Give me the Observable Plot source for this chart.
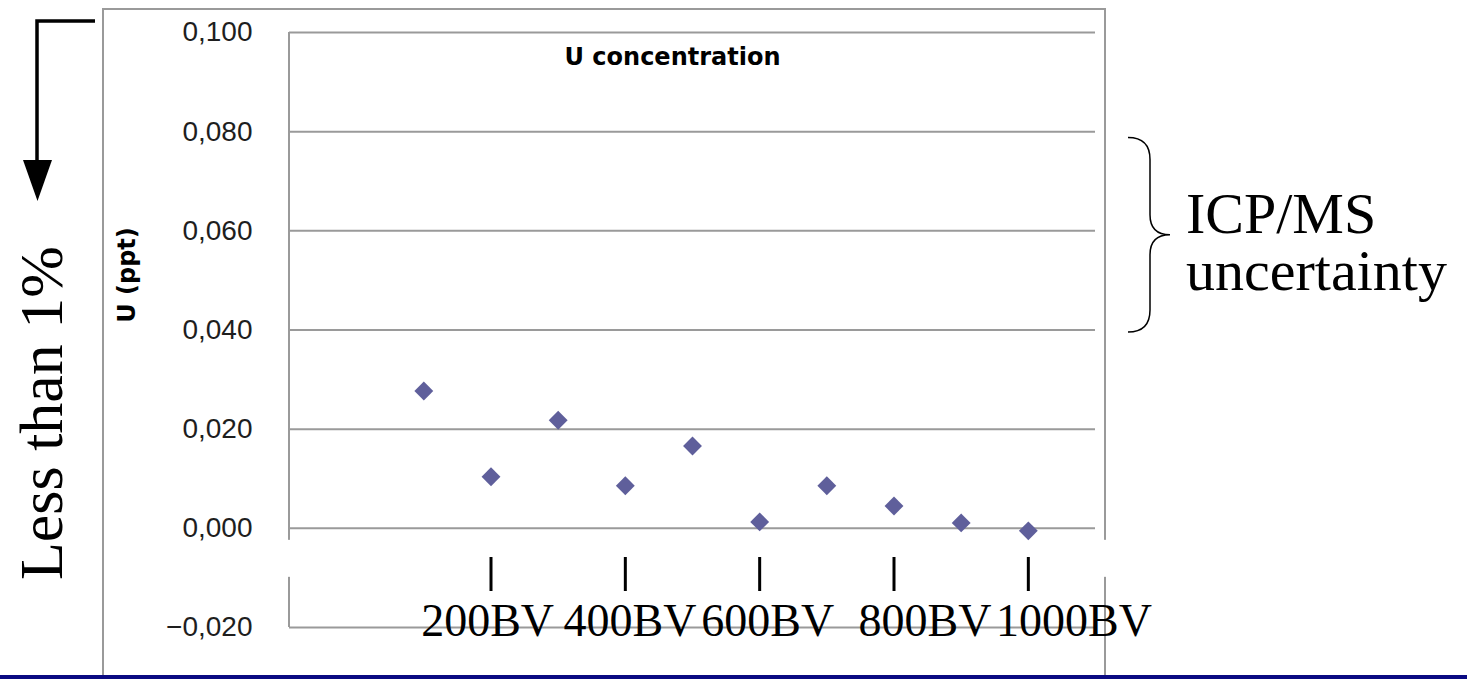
<!DOCTYPE html>
<html><head><meta charset="utf-8">
<script src="https://cdn.jsdelivr.net/npm/d3@7"></script>
<script src="https://cdn.jsdelivr.net/npm/@observablehq/plot@0.6"></script>
<style>html,body{margin:0;padding:0;background:#fff} svg{display:block}</style>
</head><body><div id="chart"></div>
<script>
// ---- data ----
const bedVolumes = [100, 200, 300, 400, 500, 600, 700, 800, 900, 1000];
const uPpt = [0.0277, 0.0104, 0.0218, 0.0086, 0.0166, 0.0013, 0.0086, 0.0045, 0.0011, -0.0005];
const yTicks = [-0.02, 0, 0.02, 0.04, 0.06, 0.08, 0.1];
const bvTicks = [200, 400, 600, 800, 1000];
const bvLabels = ["200BV", "400BV", "600BV", "800BV", "1000BV"];
const chartTitle = "U concentration";
const yTitle = "U (ppt)";
const leftNote = "Less than 1%";
const rightNote = ["ICP/MS", "uncertainty"];
const braceRange = [0.0787, 0.0395];

// ---- styling ----
const labelShift = [-5, 7, 12, 46, 68]; // BV units, label offset from tick (as in the slide)
const W = 1467, H = 679;
const fmt = d => d3.format(".3f")(d).replace(".", ",");
const points = bedVolumes.map((bv, i) => ({bv, u: uPpt[i]}));
const labels = bvTicks.map((t, i) => ({x: t + labelShift[i], text: bvLabels[i]}));

// decorations drawn with plain SVG inside the plot
function decorations(index, scales, values, dim) {
  const g = d3.create("svg:g");
  const L = dim.marginLeft, T = dim.marginTop, R = dim.width - dim.marginRight, B = dim.height - dim.marginBottom;
  // outer chart frame
  g.append("rect").attr("x", L - 186).attr("y", T - 23).attr("width", R - L + 196).attr("height", H)
    .attr("fill", "none").attr("stroke", "#9a9a9a").attr("stroke-width", 2);
  // left border of plot area
  g.append("line").attr("x1", L).attr("x2", L).attr("y1", T).attr("y2", B)
    .attr("stroke", "#9a9a9a").attr("stroke-width", 2);
  // white mask strip
  const y0 = scales.y(0);
  g.append("rect").attr("x", L - 6).attr("y", y0 + 12).attr("width", R - L + 20).attr("height", 37).attr("fill", "white");
  return g.node();
}

function overlay(index, scales, values, dim) {
  const g = d3.create("svg:g").attr("text-anchor", "start");
  // arrow
  g.append("path").attr("d", "M95,21H37V165").attr("fill", "none").attr("stroke", "black").attr("stroke-width", 3.5);
  g.append("path").attr("d", "M23,160L52,160L37.5,201Z").attr("fill", "black");
  // left note
  g.append("text").attr("transform", "translate(62,413) rotate(-90)").attr("text-anchor", "middle")
    .attr("font-family", "Liberation Serif").attr("font-size", 62).attr("fill", "black").text(leftNote);
  // y axis title
  g.append("text").attr("transform", "translate(135,275) rotate(-90)").attr("text-anchor", "middle")
    .attr("font-family", "DejaVu Sans").attr("font-weight", "bold").attr("font-size", 24).attr("fill", "black").text(yTitle);
  // brace
  const yt = scales.y(braceRange[0]), yb = scales.y(braceRange[1]), ym = (yt + yb) / 2;
  g.append("path").attr("d",
    `M1128,${yt} Q1150,${yt} 1150,${yt + 22} L1150,${ym - 20} Q1150,${ym} 1170,${ym} Q1150,${ym} 1150,${ym + 20} L1150,${yb - 22} Q1150,${yb} 1128,${yb}`)
    .attr("fill", "none").attr("stroke", "black").attr("stroke-width", 1.5);
  const t = g.append("text").attr("font-family", "Liberation Serif").attr("font-size", 58).attr("fill", "black")
    .attr("text-anchor", "start");
  t.append("tspan").attr("x", 1186).attr("y", ym - 2).text(rightNote[0]);
  t.append("tspan").attr("x", 1186).attr("y", ym + 55).text(rightNote[1]);
  // bottom blue rule
  g.append("rect").attr("x", 0).attr("y", H - 4).attr("width", W).attr("height", 4).attr("fill", "#0a0a82");
  return g.node();
}

const plot = Plot.plot({
  width: W, height: H,
  marginLeft: 289, marginRight: 372, marginTop: 32, marginBottom: 52,
  x: {domain: [-100, 1100], axis: null, label: null},
  y: {domain: [-0.02, 0.1], axis: null, label: null},
  style: {background: "white", overflow: "visible"},
  marks: [
    Plot.gridY(yTicks, {stroke: "#9a9a9a", strokeOpacity: 1, strokeWidth: 2}),
    decorations,
    Plot.axisY(yTicks, {tickSize: 0, tickPadding: 37, tickFormat: fmt, label: null, fontSize: 28, fontFamily: "Liberation Sans", fill: "#1e1e1e"}),
    Plot.axisX(bvTicks, {anchor: "bottom", tickSize: 34, dy: -70, label: null, tickFormat: () => "", stroke: "black", strokeWidth: 3}),
    Plot.dot(points, {x: "bv", y: "u", symbol: "diamond2", r: 8.5, fill: "#5f5f9b", stroke: "none"}),
    Plot.text(labels, {x: "x", y: () => -0.02, text: "text", dy: 8, lineAnchor: "bottom", fontSize: 46, fontFamily: "Liberation Serif", fill: "black"}),
    Plot.text([chartTitle], {frameAnchor: "top", dx: -20, dy: 32, lineAnchor: "bottom", fontSize: 24, fontWeight: "bold", fontFamily: "DejaVu Sans", fill: "black"}),
    overlay
  ]
});
document.getElementById("chart").appendChild(plot);
</script>
</body></html>
